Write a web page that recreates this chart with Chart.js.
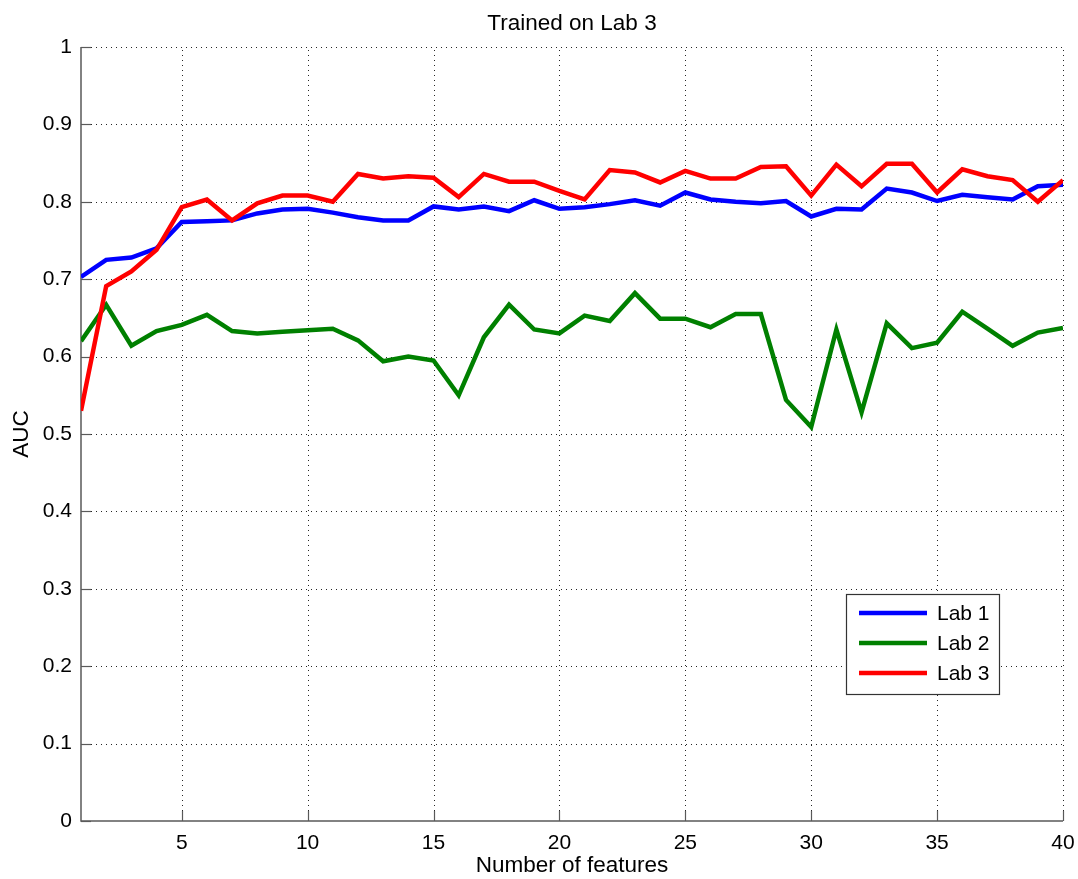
<!DOCTYPE html>
<html>
<head>
<meta charset="utf-8">
<title>Trained on Lab 3</title>
<script src="https://cdn.jsdelivr.net/npm/chart.js@4/dist/chart.umd.min.js"></script>
<style>
  html, body { margin: 0; padding: 0; background: #ffffff; }
  canvas { display: block; }
</style>
</head>
<body>
<canvas id="auc" width="1078" height="879"></canvas>
<script>
// Number of selected features (x axis)
const features = [1,2,3,4,5,6,7,8,9,10,11,12,13,14,15,16,17,18,19,20,
                  21,22,23,24,25,26,27,28,29,30,31,32,33,34,35,36,37,38,39,40];

// AUC obtained on each lab by the model trained on Lab 3
const lab1 = [0.703,0.725,0.728,0.740,0.774,0.775,0.776,0.785,0.790,0.791,
              0.786,0.780,0.776,0.776,0.794,0.790,0.794,0.788,0.802,0.791,
              0.793,0.797,0.802,0.795,0.812,0.803,0.800,0.798,0.801,0.781,
              0.791,0.790,0.817,0.812,0.801,0.809,0.806,0.803,0.820,0.822];
const lab2 = [0.620,0.667,0.614,0.633,0.641,0.654,0.633,0.630,0.632,0.634,
              0.636,0.621,0.594,0.600,0.595,0.550,0.625,0.667,0.635,0.630,
              0.653,0.646,0.682,0.649,0.649,0.638,0.655,0.655,0.544,0.509,
              0.635,0.528,0.643,0.611,0.618,0.658,0.636,0.614,0.631,0.637];
const lab3 = [0.530,0.691,0.710,0.738,0.793,0.803,0.776,0.798,0.808,0.808,
              0.800,0.836,0.830,0.833,0.831,0.806,0.836,0.826,0.826,0.814,
              0.803,0.841,0.838,0.825,0.840,0.830,0.830,0.845,0.846,0.808,
              0.848,0.820,0.849,0.849,0.812,0.842,0.833,0.828,0.800,0.828];

const xTicks = [5,10,15,20,25,30,35,40];
const yTicks = [0,0.1,0.2,0.3,0.4,0.5,0.6,0.7,0.8,0.9,1];

const seriesNames = ['Lab 1','Lab 2','Lab 3'];
const titleText = 'Trained on Lab 3';
const xTitle = 'Number of features';
const yTitle = 'AUC';

const FONT = '"Liberation Sans", Arial, Helvetica, sans-serif';
const AXIS_COLOR = '#5a5a5a';

const toPoints = arr => features.map((f, i) => ({ x: f, y: arr[i] }));

// Dotted grid, solid left/bottom axes with inward tick marks
const matlabAxes = {
  id: 'matlabAxes',
  beforeDatasetsDraw(chart) {
    const { ctx, chartArea: a, scales: { x, y } } = chart;
    ctx.save();
    ctx.strokeStyle = '#262626';
    ctx.lineWidth = 1;
    ctx.setLineDash([1, 4]);
    yTicks.forEach(v => {
      if (v === 0) return;
      const py = Math.round(y.getPixelForValue(v)) + 0.5;
      ctx.beginPath(); ctx.moveTo(a.left, py); ctx.lineTo(a.right, py); ctx.stroke();
    });
    xTicks.forEach(v => {
      const px = Math.round(x.getPixelForValue(v)) + 0.5;
      ctx.beginPath(); ctx.moveTo(px, a.bottom); ctx.lineTo(px, a.top); ctx.stroke();
    });
    ctx.setLineDash([]);
    ctx.strokeStyle = AXIS_COLOR;
    ctx.lineWidth = 1.5;
    ctx.beginPath();
    ctx.moveTo(a.left, a.top); ctx.lineTo(a.left, a.bottom); ctx.lineTo(a.right, a.bottom);
    ctx.stroke();
    const tl = 10;
    ctx.lineWidth = 1.2;
    yTicks.forEach(v => {
      const py = Math.round(y.getPixelForValue(v)) + 0.5;
      ctx.beginPath(); ctx.moveTo(a.left, py); ctx.lineTo(a.left + tl, py); ctx.stroke();
    });
    xTicks.forEach(v => {
      const px = Math.round(x.getPixelForValue(v)) + 0.5;
      ctx.beginPath(); ctx.moveTo(px, a.bottom); ctx.lineTo(px, a.bottom - tl); ctx.stroke();
    });
    ctx.restore();
  },
  afterDraw(chart) {
    const { ctx, chartArea: a } = chart;
    ctx.save();
    // chart title
    ctx.fillStyle = '#000';
    ctx.font = '22.5px ' + FONT;
    ctx.textAlign = 'center';
    ctx.textBaseline = 'alphabetic';
    ctx.fillText(titleText, (a.left + a.right) / 2, 30);

    // legend box in the lower right of the plot
    const bx = a.right - 217, by = a.bottom - 227, bw = 153, bh = 100;
    ctx.fillStyle = '#ffffff';
    ctx.fillRect(bx, by, bw, bh);
    ctx.strokeStyle = '#333333';
    ctx.lineWidth = 1.2;
    ctx.strokeRect(bx + 0.5, by + 0.5, bw, bh);
    ctx.font = '21px ' + FONT;
    ctx.textAlign = 'left';
    ctx.textBaseline = 'middle';
    [0, 1, 2].forEach((k, row) => {
      const ds = chart.data.datasets[k];
      const ry = by + 19 + row * 30;
      ctx.strokeStyle = ds.borderColor;
      ctx.lineWidth = 4.5;
      ctx.beginPath(); ctx.moveTo(bx + 13, ry); ctx.lineTo(bx + 81, ry); ctx.stroke();
      ctx.fillStyle = '#000';
      ctx.fillText(ds.label, bx + 91, ry + 1);
    });
    ctx.restore();
  }
};

Chart.defaults.font.family = FONT;
Chart.defaults.font.size = 21;
Chart.defaults.color = '#000';

new Chart(document.getElementById('auc'), {
  type: 'line',
  data: {
    datasets: [
      { label: seriesNames[0], data: toPoints(lab1), borderColor: '#0000ff', order: 2 },
      { label: seriesNames[1], data: toPoints(lab2), borderColor: '#008000', order: 1 },
      { label: seriesNames[2], data: toPoints(lab3), borderColor: '#ff0000', order: 0 }
    ]
  },
  options: {
    responsive: false,
    animation: false,
    devicePixelRatio: 1,
    layout: { padding: { left: 0, top: 47, right: 15, bottom: 0 } },
    elements: {
      line: { borderWidth: 4.5, tension: 0, borderJoinStyle: 'miter', borderCapStyle: 'butt' },
      point: { radius: 0, hoverRadius: 0 }
    },
    plugins: {
      legend: { display: false },
      title: { display: false },
      tooltip: { enabled: false }
    },
    scales: {
      x: {
        type: 'linear',
        min: 1, max: 40,
        afterBuildTicks: s => { s.ticks = xTicks.map(v => ({ value: v })); },
        afterFit: s => { s.height = 58; s.paddingRight = 0; s.paddingLeft = 0; },
        grid: { display: false, drawTicks: false },
        border: { display: false },
        ticks: { padding: 10, maxRotation: 0, autoSkip: false, font: { size: 21 } },
        title: { display: true, text: xTitle, font: { size: 22.5 }, padding: { top: 0, bottom: 0 } }
      },
      y: {
        type: 'linear',
        min: 0, max: 1,
        afterBuildTicks: s => { s.ticks = yTicks.map(v => ({ value: v })); },
        afterFit: s => { s.width = 81; },
        grid: { display: false, drawTicks: false },
        border: { display: false },
        ticks: { padding: 9, autoSkip: false, font: { size: 21 },
                 callback: v => String(+v.toFixed(1)) },
        title: { display: true, text: yTitle, font: { size: 22.5 }, padding: { top: 8, bottom: 0 } }
      }
    }
  },
  plugins: [matlabAxes]
});
</script>
</body>
</html>
